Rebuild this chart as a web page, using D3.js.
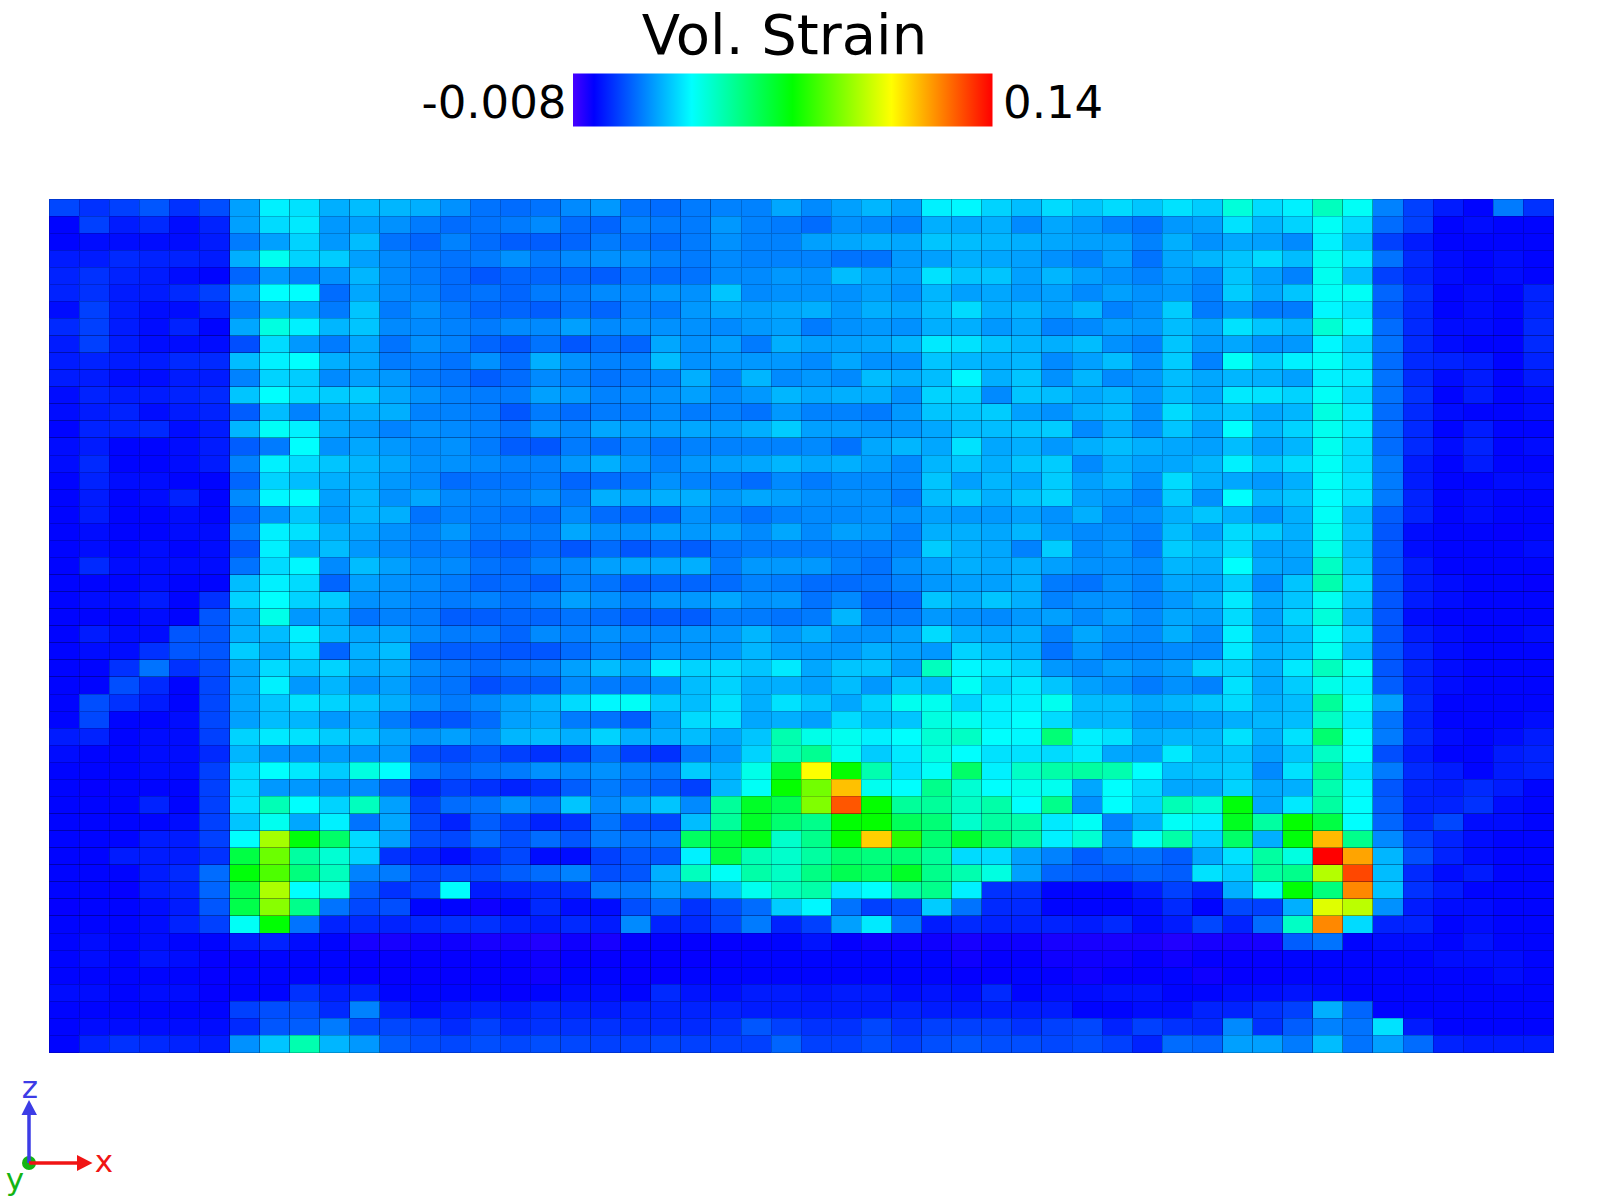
<!DOCTYPE html>
<html>
<head>
<meta charset="utf-8">
<script src="https://d3js.org/d3.v7.min.js"></script>
<style>
body { margin: 0; background: #fff; }
svg { display: block; }
text { font-family: "DejaVu Sans", sans-serif; }
</style>
</head>
<body>
<svg id="viz"></svg>
<script>
// volumetric strain per cell, in units of 0.001
// one row per z level, top row first, 50 cells left to right
var strain = [
[9,6,8,11,6,10,21,32,30,23,25,24,23,19,15,14,15,18,20,15,14,16,17,17,22,18,21,24,21,32,33,28,25,29,26,29,26,30,27,39,29,32,43,35,17,8,3,0,16,6],
[0,8,3,5,1,4,21,29,31,20,21,19,16,14,15,16,18,14,13,17,16,16,20,17,16,14,19,18,17,23,22,23,18,22,20,17,15,20,21,30,24,28,35,29,14,8,0,1,0,0],
[0,1,1,1,1,3,16,21,28,20,25,15,13,17,14,12,12,13,16,15,14,16,19,17,17,21,22,23,22,26,25,24,23,22,21,21,17,23,19,22,21,18,32,25,8,3,0,0,0,0],
[3,3,5,4,4,3,23,36,28,27,21,18,16,15,16,19,16,18,19,19,17,16,18,17,17,17,15,15,20,21,23,22,21,19,17,21,15,22,24,26,29,25,36,31,15,5,1,0,1,0],
[4,6,4,3,1,0,13,20,17,19,24,18,16,14,11,13,13,13,12,15,14,15,18,18,20,19,25,22,21,30,26,26,21,24,21,19,17,21,18,26,21,17,36,25,8,4,1,0,1,0],
[4,6,3,3,5,8,21,34,34,14,22,18,17,14,15,13,16,16,18,18,20,19,26,18,19,19,19,21,19,24,21,22,20,21,18,21,19,20,17,27,22,26,35,35,13,6,0,1,0,4],
[1,8,3,1,1,4,16,23,22,16,26,16,19,16,13,13,12,15,13,17,16,20,22,21,22,23,20,23,22,25,29,23,24,21,24,17,19,27,16,20,16,16,33,30,11,5,0,1,0,4],
[5,8,3,1,4,0,22,38,32,24,26,18,18,17,16,18,18,21,18,19,19,19,18,20,21,16,19,20,19,23,23,20,22,17,18,21,20,25,22,30,26,24,40,33,14,5,1,1,0,5],
[3,8,3,1,1,1,10,29,20,16,22,15,19,17,13,11,15,11,14,13,22,19,21,16,23,21,21,22,24,31,30,26,24,23,25,19,17,26,20,22,19,20,33,28,15,5,1,0,0,5],
[3,4,3,3,5,5,25,32,34,23,22,16,17,15,19,14,23,19,17,17,25,19,20,20,20,18,22,19,19,26,24,23,24,18,21,25,19,27,17,35,27,32,35,30,14,5,4,3,0,4],
[3,3,1,1,3,3,17,28,27,18,21,20,16,15,12,14,18,17,15,16,17,23,17,24,18,20,18,25,23,25,33,23,26,19,24,18,20,25,22,24,23,21,32,31,15,5,1,3,0,3],
[1,4,3,3,4,5,26,34,29,27,27,22,19,17,16,16,21,20,17,18,19,21,18,20,24,22,23,23,19,28,28,18,26,25,22,24,20,25,22,31,30,28,35,29,15,6,0,3,0,1],
[1,3,4,1,3,4,12,25,17,22,23,23,17,17,16,11,16,14,16,16,18,16,17,15,20,17,17,16,20,26,26,27,21,19,23,25,19,29,24,26,22,24,38,31,14,5,1,0,0,1],
[0,4,4,5,1,3,24,35,32,22,20,17,19,18,17,15,20,18,22,21,21,22,21,23,27,21,21,20,20,22,25,25,26,27,18,23,19,26,21,34,24,28,36,31,14,5,0,3,0,0],
[1,3,0,0,1,3,12,16,34,19,22,20,18,19,16,12,11,16,14,17,15,17,17,17,17,18,15,22,24,22,30,22,23,20,23,25,23,22,21,25,21,24,36,29,14,5,1,4,0,1],
[1,5,0,0,1,3,17,32,29,26,24,22,19,19,18,17,17,20,23,20,17,20,21,22,24,22,23,21,18,24,26,23,26,27,18,23,21,22,24,32,26,29,35,29,16,3,0,3,0,0],
[0,4,1,1,0,0,13,28,25,23,23,20,18,14,15,15,16,13,14,15,19,17,16,14,18,16,18,18,18,26,21,24,22,27,21,24,19,29,23,22,20,23,35,30,16,3,0,0,1,1],
[0,3,0,1,4,0,18,33,34,21,24,19,22,18,17,17,19,16,23,22,23,23,20,22,21,19,19,19,16,25,27,23,26,28,21,20,17,27,19,34,24,26,34,30,16,4,0,1,0,0],
[0,3,0,0,1,0,13,19,26,20,24,23,15,17,16,15,14,18,14,13,13,19,17,15,17,18,18,19,19,21,20,20,21,19,23,18,19,23,26,23,19,23,35,25,12,4,0,1,0,0],
[0,1,0,0,1,1,16,32,30,23,22,19,17,20,16,17,16,22,19,19,21,20,21,18,22,18,21,20,17,23,23,22,24,20,18,19,17,25,21,29,27,23,36,26,11,1,0,0,-1,0],
[0,1,0,1,0,1,11,32,22,25,20,18,16,16,13,12,14,11,14,11,13,12,15,16,16,16,16,16,17,27,23,22,17,27,18,20,16,27,25,29,21,22,37,25,11,1,0,0,0,1],
[0,5,1,1,1,1,15,29,33,18,25,21,18,18,15,14,17,18,21,22,22,23,16,20,20,20,17,15,19,21,23,22,23,21,19,19,18,24,23,34,22,21,42,26,11,3,0,0,0,0],
[0,0,0,1,0,0,25,32,29,13,21,19,18,16,13,14,12,17,15,12,13,13,14,17,16,14,14,15,17,20,21,21,23,16,15,19,17,22,21,27,18,26,45,28,11,3,1,0,0,-1],
[0,1,1,3,0,6,28,34,28,27,19,19,17,16,17,15,17,21,19,17,20,20,22,19,20,15,18,13,14,26,23,26,23,17,19,19,17,20,23,31,22,26,36,26,11,3,1,0,0,0],
[0,0,0,1,0,11,22,37,20,22,15,17,16,12,12,13,13,15,14,12,12,12,16,16,15,16,24,16,16,20,19,18,20,21,18,21,18,22,21,29,21,28,39,24,11,1,0,0,0,0],
[0,3,1,1,11,11,23,25,32,24,22,22,18,16,16,13,18,17,19,18,18,20,20,24,20,23,19,19,21,29,23,22,23,17,22,19,18,23,19,32,22,25,35,28,11,3,1,0,0,1],
[0,1,1,6,11,11,27,22,29,13,23,25,13,12,12,11,11,14,17,15,19,19,20,24,21,20,20,23,21,20,28,25,23,15,20,17,17,18,18,31,23,25,36,25,11,4,1,0,0,0],
[0,0,6,15,6,10,22,29,26,28,23,23,18,16,14,16,17,21,25,22,32,28,29,26,31,22,26,26,21,43,33,31,28,20,18,21,19,21,28,28,23,31,43,35,11,4,1,0,0,0],
[0,0,10,5,0,9,22,32,20,24,19,21,16,15,10,12,12,18,16,16,18,25,28,23,23,21,25,20,26,24,35,28,31,26,21,19,16,19,17,30,22,27,37,32,12,4,1,0,0,0],
[0,10,6,3,0,9,22,26,30,28,26,23,19,16,18,21,24,29,33,35,27,25,30,23,30,26,22,28,36,36,28,32,32,36,25,25,22,24,26,29,23,25,48,35,21,5,0,0,0,0],
[0,9,0,0,1,9,21,25,24,20,22,16,11,11,14,21,22,16,15,12,21,29,30,22,23,21,29,25,26,38,36,32,34,29,24,24,20,20,21,23,24,25,42,31,15,4,0,0,0,1],
[3,4,0,1,1,8,28,31,30,27,26,22,19,21,18,24,25,23,28,23,23,25,22,26,45,37,36,32,34,40,42,34,33,53,32,30,23,24,24,30,23,30,54,34,16,5,1,0,1,3],
[1,0,0,1,1,5,24,19,19,20,19,20,10,9,11,8,6,8,14,8,6,16,20,28,44,49,36,27,31,38,34,30,30,29,31,22,21,31,25,26,21,26,42,34,10,3,0,0,3,4],
[0,0,0,1,1,8,29,34,31,27,38,34,16,13,15,16,19,18,19,17,16,27,24,37,62,104,70,45,30,35,55,32,42,46,47,45,34,25,26,27,18,30,49,30,16,5,3,0,3,4],
[0,-1,0,0,0,8,29,20,20,18,18,12,4,8,6,4,6,12,16,14,12,8,24,35,70,85,113,36,34,50,40,34,36,36,22,34,29,22,22,28,22,23,45,33,11,4,3,5,3,0],
[0,0,0,4,0,8,30,44,34,28,43,21,8,14,15,19,16,26,18,21,26,18,48,64,58,87,128,70,48,48,42,46,34,50,19,34,28,44,40,68,22,31,47,34,12,4,4,6,1,0],
[0,0,0,0,1,8,26,36,22,32,15,22,9,4,12,8,4,6,15,10,9,25,48,64,54,50,69,70,57,53,41,47,46,31,35,17,23,35,32,65,47,70,60,34,13,5,9,1,1,0],
[0,0,0,3,3,8,34,92,68,55,29,21,10,9,14,10,14,11,16,15,16,56,62,67,41,50,70,111,75,54,63,54,47,32,40,20,35,46,28,55,23,68,114,50,18,8,4,1,0,0],
[0,0,3,3,3,6,60,84,47,40,28,6,4,1,5,9,1,1,8,11,11,32,60,44,41,47,54,52,53,48,29,29,21,17,12,15,15,12,22,30,47,38,140,117,24,10,4,1,0,0],
[0,0,0,3,5,14,68,80,52,43,17,16,9,10,9,12,14,17,10,11,23,43,35,46,42,51,58,55,64,50,45,38,21,13,12,11,13,12,30,27,47,50,94,130,25,5,1,3,0,0],
[0,0,-1,3,4,13,59,93,34,38,12,6,9,34,3,4,5,6,16,16,21,20,26,36,43,46,31,34,47,50,32,6,6,0,0,0,3,8,4,23,36,69,52,121,26,6,3,0,0,0],
[-1,0,0,1,3,11,59,88,50,15,9,10,0,0,-2,0,5,1,1,10,13,6,10,14,27,33,15,8,10,27,15,5,5,0,0,0,1,5,0,9,8,23,100,95,19,3,1,1,0,0],
[0,0,0,1,4,8,35,69,15,4,5,4,5,6,6,4,3,5,3,18,4,5,9,16,4,8,21,31,15,3,5,4,4,4,3,5,1,3,9,4,14,42,121,29,4,4,0,1,0,0],
[0,1,0,1,0,0,3,4,1,0,-3,-3,-2,-2,-3,-3,-4,-2,-3,-1,-1,-1,-1,-1,0,2,-1,-2,-2,-2,-3,-2,-2,-3,-3,-3,-3,-4,-3,-3,-3,12,15,0,1,1,0,2,0,0],
[0,1,0,2,1,-1,-1,0,0,0,-1,-1,-1,-1,-1,-1,-2,-1,-1,-1,-1,-1,-1,0,0,0,0,0,0,0,-2,-1,-1,-2,-2,-2,-1,-2,-1,-1,-1,0,0,0,0,0,1,1,1,0],
[0,0,0,0,0,-1,0,0,0,0,-1,-1,-1,-1,-1,-1,-2,0,0,-1,-1,0,0,0,0,0,0,0,0,0,-1,-1,0,-1,-2,-1,-1,0,-2,-1,-1,0,0,0,0,0,0,0,1,0],
[1,1,0,1,1,-1,0,0,6,3,4,0,0,0,0,-1,0,1,1,0,5,2,1,3,3,2,3,3,1,2,1,5,0,1,1,2,2,0,0,1,1,2,1,0,0,0,0,0,0,0],
[0,0,0,0,0,0,8,10,10,5,17,4,1,3,4,3,5,4,3,4,4,4,4,3,3,3,3,3,4,3,3,3,3,3,0,0,1,1,4,4,6,8,23,13,0,0,0,0,0,0],
[0,1,1,1,1,1,5,11,12,16,9,9,8,5,8,5,6,6,6,5,5,5,6,11,8,6,6,9,6,8,8,8,6,8,9,4,8,6,5,18,6,12,17,15,30,3,0,0,0,0],
[0,4,6,5,4,3,19,26,45,24,20,12,10,9,10,9,10,9,8,8,9,8,8,8,13,8,8,10,8,10,11,10,10,9,10,8,4,14,13,21,21,16,25,15,21,14,4,3,3,3]
];

var minStrain = -8;
var maxStrain = 140;
var minLabel = "-0.008";
var maxLabel = "0.14";
var title = "Vol. Strain";

// colormap as it looks on the colorbar, positions are fractions of the bar
var stopPos = [0, 0.05, 0.283, 0.523, 0.759, 1];
var stopCol = ["#4800ff", "#0000ff", "#00ffff", "#00ff00", "#ffff00", "#ff0000"];

var width = 1600;
var height = 1200;

var svg = d3.select("#viz")
	.attr("width", width)
	.attr("height", height)

var toPos = d3.scaleLinear().domain([minStrain, maxStrain]).range([0, 1]);
var color = d3.scaleLinear().domain(stopPos).range(stopCol).interpolate(d3.interpolateRgb).clamp(true);

var scaleX = d3.scaleBand().domain(d3.range(strain[0].length)).range([49, 1553.5]);
var scaleY = d3.scaleBand().domain(d3.range(strain.length)).range([199, 1052.5]);

var cells = [];
strain.forEach((row, r) => {
	row.forEach((v, c) => {
		cells.push({r: r, c: c, v: v});
	})
})

// crisp edges, otherwise the white page shows through between cells
svg.selectAll(".cell")
	.data(cells)
	.join("rect")
	.attr("class", "cell")
	.attr("x", d => scaleX(d.c))
	.attr("y", d => scaleY(d.r))
	.attr("width", scaleX.bandwidth())
	.attr("height", scaleY.bandwidth())
	.attr("shape-rendering", "crispEdges")
	.style("fill", d => color(toPos(d.v)))
	.style("stroke", "rgba(0,0,30,0.2)")
	.style("stroke-width", 1)

// colorbar
var grad = svg.append("defs").append("linearGradient").attr("id", "bar");
grad.selectAll("stop")
	.data(stopPos)
	.join("stop")
	.attr("offset", d => d)
	.attr("stop-color", (d, i) => stopCol[i])

svg.append("rect")
	.attr("x", 573)
	.attr("y", 73.5)
	.attr("width", 419.5)
	.attr("height", 53)
	.style("fill", "url(#bar)")

svg.append("text")
	.attr("x", 784.5)
	.attr("y", 54)
	.attr("text-anchor", "middle")
	.style("font-size", "56px")
	.text(title)

svg.append("text")
	.attr("x", 566.5)
	.attr("y", 118)
	.attr("text-anchor", "end")
	.style("font-size", "45px")
	.text(minLabel)

svg.append("text")
	.attr("x", 1003)
	.attr("y", 118)
	.style("font-size", "45px")
	.text(maxLabel)

// axes triad, bottom left
var triad = svg.append("g");
triad.append("circle").attr("cx", 29).attr("cy", 1163).attr("r", 7).style("fill", "#14b414");
triad.append("line").attr("x1", 29).attr("y1", 1163).attr("x2", 29).attr("y2", 1112)
	.style("stroke", "#3c3ce6").style("stroke-width", 3.5);
triad.append("path").attr("d", "M29,1100 L37,1115 L21.5,1115 Z").style("fill", "#3c3ce6");
triad.append("line").attr("x1", 29).attr("y1", 1163).attr("x2", 80).attr("y2", 1163)
	.style("stroke", "#f01414").style("stroke-width", 3.5);
triad.append("path").attr("d", "M92.5,1163 L77,1155 L77,1171 Z").style("fill", "#f01414");
triad.append("text").attr("x", 30).attr("y", 1098).attr("text-anchor", "middle")
	.style("font-size", "31px").style("fill", "#3c3ce6").text("z");
triad.append("text").attr("x", 104).attr("y", 1171.5).attr("text-anchor", "middle")
	.style("font-size", "31px").style("fill", "#f01414").text("x");
triad.append("text").attr("x", 15).attr("y", 1190).attr("text-anchor", "middle")
	.style("font-size", "31px").style("fill", "#14b414").text("y");
</script>
</body>
</html>
